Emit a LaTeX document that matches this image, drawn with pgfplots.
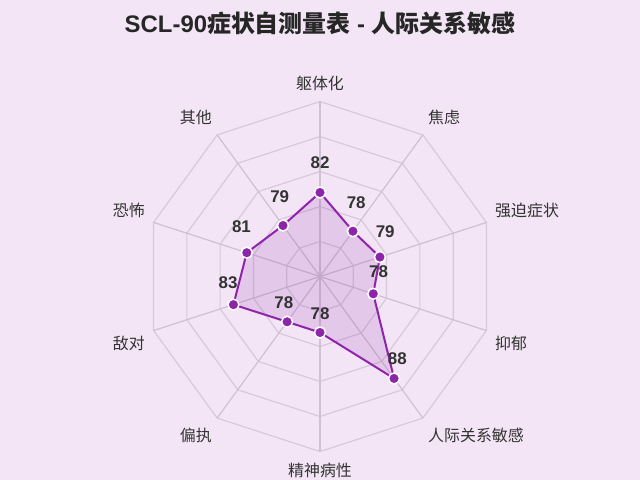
\documentclass[border=0pt]{standalone}
\usepackage{pgfplots}
\pgfplotsset{compat=1.18}
\usepackage{pgfplotstable}
\usepackage{fontspec}
\setmainfont{Liberation Sans}
\newfontfamily\cjk{Noto Sans CJK SC}

\definecolor{bg}{HTML}{F3E5F5}
\definecolor{purp}{HTML}{8E24AA}
\definecolor{gridc}{HTML}{D8C8DC}
\definecolor{spokec}{HTML}{D0C0D4}
\definecolor{txt}{HTML}{333333}

% angle (deg), score; centre of the chart is 70, outer ring 95
\pgfplotstableread{
a    v
90   82
54   78
18   79
-18  78
-54  88
-90  78
-126 78
-162 83
162  81
126  79
}\scores

\pgfplotstableread{
a    r
90   1
54   1
18   1
-18  1
-54  1
-90  1
-126 1
-162 1
162  1
126  1
90   1
}\spokes

\begin{document}
\begin{tikzpicture}
\fill[bg] (0,0) rectangle (640bp,480bp);
\begin{axis}[
  at={(0,0)}, anchor=south west,
  scale only axis, width=640bp, height=480bp,
  xmin=-45.7143, xmax=45.7143, ymin=-29.0714, ymax=39.5,
  hide axis, clip=false,
]
% rings at 75, 80, 85, 90, 95
\pgfplotsinvokeforeach{75,80,85,90,95}{
  \addplot[gridc, line width=1.2bp, no markers]
    table[x expr={(#1-70)*cos(\thisrow{a})}, y expr={(#1-70)*sin(\thisrow{a})}] {\spokes};
}
\pgfplotsinvokeforeach{90,54,18,-18,-54,-90,-126,-162,162,126}{
  \addplot[spokec, line width=1.2bp, no markers] coordinates {(0,0) ({25*cos(#1)},{25*sin(#1)})};
}
% filled area and outline
\addplot[draw=none, fill=purp, fill opacity=0.15, no markers]
  table[x expr={(\thisrow{v}-70)*cos(\thisrow{a})}, y expr={(\thisrow{v}-70)*sin(\thisrow{a})}] {\scores} -- cycle;
\addplot[purp, line width=2bp, mark=*, mark size=5.5bp,
  mark options={fill=purp, draw=white, line width=1.5bp}]
  table[x expr={(\thisrow{v}-70)*cos(\thisrow{a})}, y expr={(\thisrow{v}-70)*sin(\thisrow{a})}] {\scores} -- cycle;
% value labels
\addplot[draw=none, no markers, nodes near coords, point meta=explicit symbolic,
  every node near coord/.style={anchor=center, yshift=24bp, text=txt,
    font=\fontsize{17}{17}\selectfont\bfseries}]
  table[x expr={(\thisrow{v}-69.2)*cos(\thisrow{a})}, y expr={(\thisrow{v}-69.2)*sin(\thisrow{a})}, meta=v] {\scores};
\end{axis}
% title
\node[anchor=base, text=black!85] at (320bp,447bp)
  {\fontsize{24}{24}\selectfont\bfseries SCL-90{\cjk 症状自测量表} - {\cjk 人际关系敏感}};
% category labels
\begin{scope}[every node/.style={text=txt, inner sep=0pt, font=\cjk\fontsize{16}{16}\selectfont}]
\node[anchor=center] at (320bp,397bp) {躯体化};
\node[anchor=west] at (428bp,363bp) {焦虑};
\node[anchor=west] at (495bp,270bp) {强迫症状};
\node[anchor=west] at (495bp,137bp) {抑郁};
\node[anchor=west] at (428bp,45bp) {人际关系敏感};
\node[anchor=center] at (320bp,10bp) {精神病性};
\node[anchor=east] at (212bp,45bp) {偏执};
\node[anchor=east] at (145bp,137bp) {敌对};
\node[anchor=east] at (145bp,270bp) {恐怖};
\node[anchor=east] at (212bp,363bp) {其他};
\end{scope}
\end{tikzpicture}
\end{document}
